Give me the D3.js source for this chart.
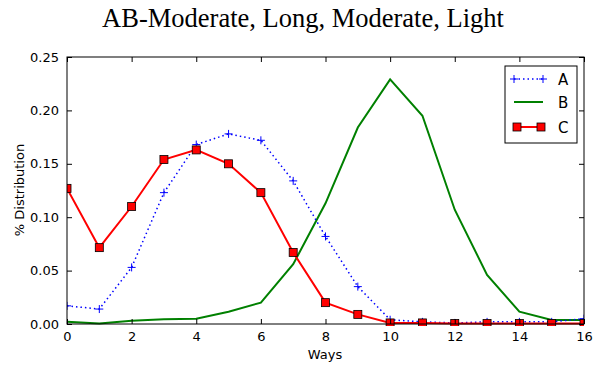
<!DOCTYPE html>
<html><head><meta charset="utf-8">
<script src="https://cdn.jsdelivr.net/npm/d3@7"></script>
<style>body{margin:0;background:#fff}svg{display:block}</style>
</head><body><svg id="c" width="606" height="373"></svg>
<script>
const ways = [0,1,2,3,4,5,6,7,8,9,10,11,12,13,14,15,16];
const seriesA = [0.017,0.014,0.053,0.123,0.168,0.178,0.172,0.134,0.082,0.035,0.004,0.002,0.001,0.002,0.002,0.002,0.005];
const seriesB = [0.002,0.0005,0.003,0.0045,0.005,0.0115,0.020,0.056,0.113,0.184,0.229,0.195,0.107,0.046,0.0115,0.0037,0.0037];
const seriesC = [0.127,0.0715,0.110,0.154,0.163,0.150,0.123,0.067,0.020,0.009,0.001,0.001,0.0005,0.0005,0.0005,0.0005,0.0005];
const xTicks = [0,2,4,6,8,10,12,14,16];
const yTicks = [0,0.05,0.10,0.15,0.20,0.25];
const names = ["A","B","C"];

const svg = d3.select("#c");
const L=67,R=584,T=57,B=324;
const x = d3.scaleLinear().domain([0,16]).range([L,R]);
const y = d3.scaleLinear().domain([0,0.25]).range([B,T]);
const font = "DejaVu Sans, sans-serif";

svg.append("text").attr("x",303).attr("y",27).attr("text-anchor","middle")
  .attr("font-family","Liberation Serif, Times New Roman, serif").attr("font-size",26.5).text("AB-Moderate, Long, Moderate, Light");

const clip = svg.append("clipPath").attr("id","cp").append("rect").attr("x",L).attr("y",T-2).attr("width",R-L).attr("height",B-T+4);

const g = svg.append("g").attr("clip-path","url(#cp)");
const line = d3.line().x((d,i)=>x(ways[i])).y(d=>y(d));

g.append("path").datum(seriesB).attr("d",line).attr("fill","none").attr("stroke","#008000").attr("stroke-width",2);
g.append("path").datum(seriesA).attr("d",line).attr("fill","none").attr("stroke","#0000ff").attr("stroke-width",1.5).attr("stroke-dasharray","1.5,3");
g.selectAll(".pa").data(seriesA).enter().append("path")
  .attr("d",(d,i)=>`M${x(ways[i])-4},${y(d)}h8M${x(ways[i])},${y(d)-4}v8`).attr("stroke","#0000ff").attr("stroke-width",1);
g.append("path").datum(seriesC).attr("d",line).attr("fill","none").attr("stroke","#ff0000").attr("stroke-width",2);
g.selectAll(".pc").data(seriesC).enter().append("rect")
  .attr("x",(d,i)=>x(ways[i])-4).attr("y",d=>y(d)-4).attr("width",8).attr("height",8)
  .attr("fill","#ff0000").attr("stroke","#000").attr("stroke-width",0.8);

svg.append("rect").attr("x",L).attr("y",T).attr("width",R-L).attr("height",B-T).attr("fill","none").attr("stroke","#000").attr("stroke-width",1);

const xb = d3.axisBottom(x).tickValues(xTicks).tickSizeInner(-5).tickSizeOuter(0).tickPadding(8).tickFormat(d3.format("d"));
const xt = d3.axisTop(x).tickValues(xTicks).tickSizeInner(-5).tickSizeOuter(0).tickFormat("");
const yl = d3.axisLeft(y).tickValues(yTicks).tickSizeInner(-5).tickSizeOuter(0).tickPadding(8).tickFormat(d3.format(".2f"));
const yr = d3.axisRight(y).tickValues(yTicks).tickSizeInner(-5).tickSizeOuter(0).tickFormat("");
[[xb,`translate(0,${B})`],[xt,`translate(0,${T})`],[yl,`translate(${L},0)`],[yr,`translate(${R},0)`]].forEach(([a,t])=>{
  const ag = svg.append("g").attr("transform",t).call(a);
  ag.select(".domain").remove();
  ag.selectAll("text").attr("font-family",font).attr("font-size",13).attr("fill","#000");
  ag.selectAll("line").attr("stroke","#000");
});

svg.append("text").attr("x",325).attr("y",359).attr("text-anchor","middle").attr("font-family",font).attr("font-size",13).text("Ways");
svg.append("text").attr("transform","translate(24,190) rotate(-90)").attr("text-anchor","middle").attr("font-family",font).attr("font-size",13).text("% Distribution");

const lg = svg.append("g");
lg.append("rect").attr("x",505).attr("y",66).attr("width",72).attr("height",77).attr("fill","#fff").attr("stroke","#000").attr("stroke-width",1);
const ly = [79,102,127];
lg.append("line").attr("x1",514).attr("x2",543).attr("y1",ly[0]).attr("y2",ly[0]).attr("stroke","#0000ff").attr("stroke-width",1.5).attr("stroke-dasharray","1.5,3");
[514,543].forEach(px=>lg.append("path").attr("d",`M${px-4},${ly[0]}h8M${px},${ly[0]-4}v8`).attr("stroke","#0000ff"));
lg.append("line").attr("x1",514).attr("x2",543).attr("y1",ly[1]).attr("y2",ly[1]).attr("stroke","#008000").attr("stroke-width",2);
lg.append("line").attr("x1",517).attr("x2",541).attr("y1",ly[2]).attr("y2",ly[2]).attr("stroke","#ff0000").attr("stroke-width",2);
[517,541].forEach(px=>lg.append("rect").attr("x",px-4).attr("y",ly[2]-4).attr("width",8).attr("height",8).attr("fill","#ff0000").attr("stroke","#000").attr("stroke-width",0.8));
names.forEach((n,i)=>lg.append("text").attr("x",558).attr("y",ly[i]+6).attr("font-family",font).attr("font-size",15).text(n));
</script></body></html>
